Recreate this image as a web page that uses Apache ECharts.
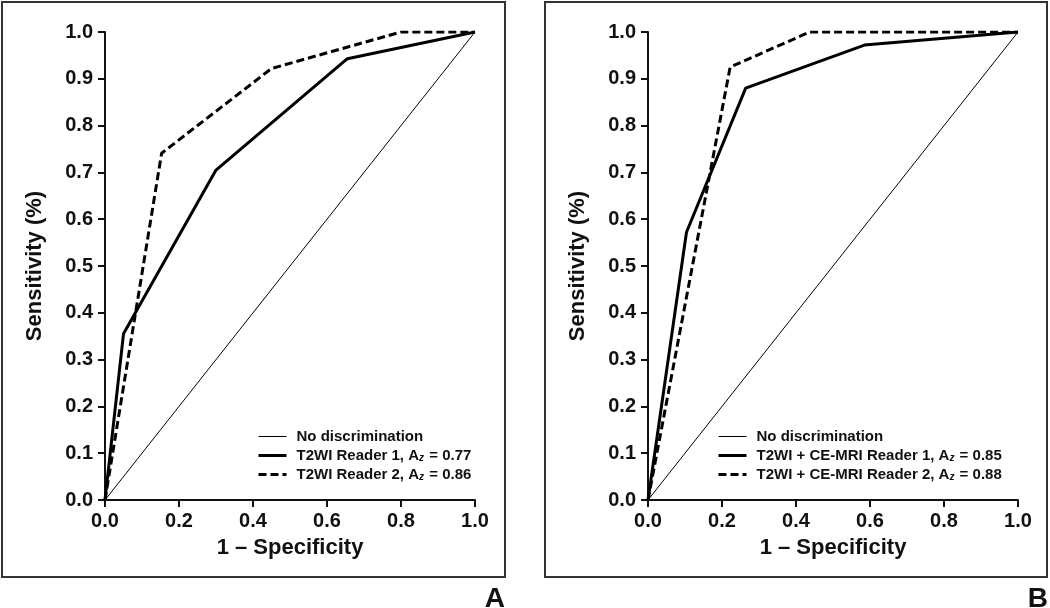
<!DOCTYPE html>
<html><head><meta charset="utf-8">
<script src="https://cdn.jsdelivr.net/npm/echarts@6/dist/echarts.min.js"></script>
<style>html,body{margin:0;padding:0;background:#fff}#c{width:1050px;height:608px}</style>
</head><body><div id="c"></div>
<script>
// ---- data ----
const xTickStep = 0.2;
const yTickStep = 0.1;
const diagonal = [[0, 0], [1, 1]];
const aReader1 = [[0, 0], [0.05, 0.355], [0.30, 0.705], [0.655, 0.943], [1, 1]];
const aReader2 = [[0, 0], [0.153, 0.741], [0.45, 0.922], [0.80, 1.0], [1, 1]];
const bReader1 = [[0, 0], [0.104, 0.572], [0.264, 0.88], [0.585, 0.972], [1, 1]];
const bReader2 = [[0, 0], [0.222, 0.925], [0.437, 1.0], [1, 1]];
const namesA = ['No discrimination', 'T2WI Reader 1, Az = 0.77', 'T2WI Reader 2, Az = 0.86'];
const namesB = ['No discrimination ', 'T2WI + CE-MRI Reader 1, Az = 0.85', 'T2WI + CE-MRI Reader 2, Az = 0.88'];
const xTitle = '1 \u2013 Specificity';
const yTitle = 'Sensitivity (%)';
const panelLabels = ['A', 'B'];

const FONT = '"Liberation Sans", Arial, Helvetica, sans-serif';
const INK = '#111';
const dash = [8, 4];
const widths = [1, 3, 3];
const types = ['solid', 'solid', dash];

function xAxis(gi) {
  return {
    type: 'value', gridIndex: gi, min: 0, max: 1, interval: xTickStep,
    name: xTitle, nameLocation: 'middle', nameGap: 37,
    nameTextStyle: { fontSize: 22, fontWeight: 'bold', color: INK, fontFamily: FONT },
    axisLine: { lineStyle: { color: INK, width: 2 } },
    axisTick: { length: 7, lineStyle: { color: INK, width: 2 } },
    axisLabel: { fontSize: 20, fontWeight: 'bold', color: INK, fontFamily: FONT, margin: 11,
      formatter: v => v.toFixed(1) },
    splitLine: { show: false }
  };
}
function yAxis(gi) {
  return {
    type: 'value', gridIndex: gi, min: 0, max: 1, interval: yTickStep,
    name: yTitle, nameLocation: 'middle', nameGap: 59,
    nameTextStyle: { fontSize: 22, fontWeight: 'bold', color: INK, fontFamily: FONT },
    axisLine: { show: true, lineStyle: { color: INK, width: 2 } },
    axisTick: { show: true, length: 7, lineStyle: { color: INK, width: 2 } },
    axisLabel: { fontSize: 20, fontWeight: 'bold', color: INK, fontFamily: FONT, margin: 12,
      formatter: v => v.toFixed(1) },
    splitLine: { show: false }
  };
}
function line(name, data, gi, k) {
  return {
    type: 'line', name, data, xAxisIndex: gi, yAxisIndex: gi,
    symbol: 'none', silent: true,
    lineStyle: { color: '#000', width: widths[k], type: types[k] },
    itemStyle: { color: '#000' }
  };
}
function legend(names, left) {
  return {
    data: names.map((n, k) => ({ name: n, lineStyle: { width: widths[k], type: types[k], color: '#000' } })),
    orient: 'vertical', left, top: 429, itemGap: 4, padding: 0,
    itemWidth: 28, itemHeight: 14, selectedMode: false,
    itemStyle: { opacity: 0 },
    formatter: n => n.trim().replace('Az', 'A{sub|z}'),
    textStyle: { fontSize: 15, fontWeight: 'bold', color: INK, fontFamily: FONT, padding: [0, 0, 0, 5],
      rich: { sub: { fontSize: 10, fontStyle: 'italic', fontWeight: 'bold', color: INK, fontFamily: FONT,
        verticalAlign: 'bottom', padding: [5, 1, 0, 0] } } }
  };
}

const option = {
  animation: false,
  backgroundColor: '#fff',
  grid: [
    { left: 105, top: 32, width: 370, height: 468 },
    { left: 648, top: 32, width: 370, height: 468 }
  ],
  xAxis: [xAxis(0), xAxis(1)],
  yAxis: [yAxis(0), yAxis(1)],
  legend: [legend(namesA, 257), legend(namesB, 717)],
  series: [
    line(namesA[0], diagonal, 0, 0),
    line(namesA[1], aReader1, 0, 1),
    line(namesA[2], aReader2, 0, 2),
    line(namesB[0], diagonal, 1, 0),
    line(namesB[1], bReader1, 1, 1),
    line(namesB[2], bReader2, 1, 2)
  ],
  graphic: [
    { type: 'rect', shape: { x: 2, y: 2, width: 503, height: 575 }, style: { fill: 'none', stroke: '#333', lineWidth: 2 } },
    { type: 'rect', shape: { x: 545, y: 2, width: 502, height: 575 }, style: { fill: 'none', stroke: '#333', lineWidth: 2 } },
    { type: 'text', x: 505, y: 585, style: { text: panelLabels[0], align: 'right', verticalAlign: 'top', font: 'bold 28px ' + FONT, fill: INK } },
    { type: 'text', x: 1048, y: 585, style: { text: panelLabels[1], align: 'right', verticalAlign: 'top', font: 'bold 28px ' + FONT, fill: INK } }
  ]
};
echarts.init(document.getElementById('c')).setOption(option);
</script></body></html>
